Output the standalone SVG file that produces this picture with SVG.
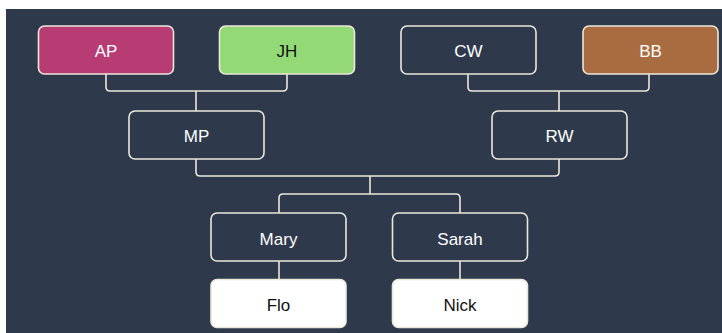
<svg xmlns="http://www.w3.org/2000/svg" width="722" height="333" viewBox="0 0 722 333">
<style>
.n rect{stroke:#ebe7d9;stroke-width:1.6}
.d rect{fill:#2e3a4c}
.n text{font-family:"Liberation Sans",Arial,sans-serif;font-size:17px;text-anchor:middle}
.lt text{fill:#ffffff}
.dk text{fill:#111111}
#connectors path{fill:none;stroke:#ebe7d9;stroke-width:1.6}
</style>
<rect x="0" y="0" width="722" height="333" fill="#ffffff"/>
<rect x="6" y="9" width="716" height="324" fill="#2e3a4c"/>
<g id="connectors">
<path d="M106,74 V87 Q106,91 110,91 H283 Q287,91 287,87 V74"/>
<path d="M196,91 V111"/>
<path d="M468,74 V87 Q468,91 472,91 H645 Q649,91 649,87 V74"/>
<path d="M559,91 V111"/>
<path d="M196,159 V172 Q196,176 200,176 H555 Q559,176 559,172 V159"/>
<path d="M370,176 V194"/>
<path d="M279,213 V198 Q279,194 283,194 H456 Q460,194 460,198 V213"/>
<path d="M279,261 V279"/>
<path d="M460,261 V279"/>
</g>
<g id="AP" class="n lt"><rect x="38.5" y="26" width="135" height="48" rx="6" fill="#b83c74"/><text x="106" y="57">AP</text></g>
<g id="JH" class="n dk"><rect x="219.5" y="26" width="135" height="48" rx="6" fill="#93da76"/><text x="287" y="57">JH</text></g>
<g id="CW" class="n d lt"><rect x="401" y="26" width="135" height="48" rx="6"/><text x="468.5" y="57">CW</text></g>
<g id="BB" class="n lt"><rect x="583" y="26" width="135" height="48" rx="6" fill="#a96c41"/><text x="650.5" y="57">BB</text></g>
<g id="MP" class="n d lt"><rect x="129" y="111" width="135" height="48" rx="6"/><text x="196.5" y="142">MP</text></g>
<g id="RW" class="n d lt"><rect x="492" y="111" width="135" height="48" rx="6"/><text x="559.5" y="142">RW</text></g>
<g id="Mary" class="n d lt"><rect x="211" y="213" width="135" height="48" rx="6"/><text x="278.5" y="245">Mary</text></g>
<g id="Sarah" class="n d lt"><rect x="392.5" y="213" width="135" height="48" rx="6"/><text x="460" y="245">Sarah</text></g>
<g id="Flo" class="n dk"><rect x="211" y="279.5" width="135" height="48" rx="6" fill="#ffffff"/><text x="278.5" y="310.5">Flo</text></g>
<g id="Nick" class="n dk"><rect x="392.5" y="279.5" width="135" height="48" rx="6" fill="#ffffff"/><text x="460" y="310.5">Nick</text></g>
</svg>
